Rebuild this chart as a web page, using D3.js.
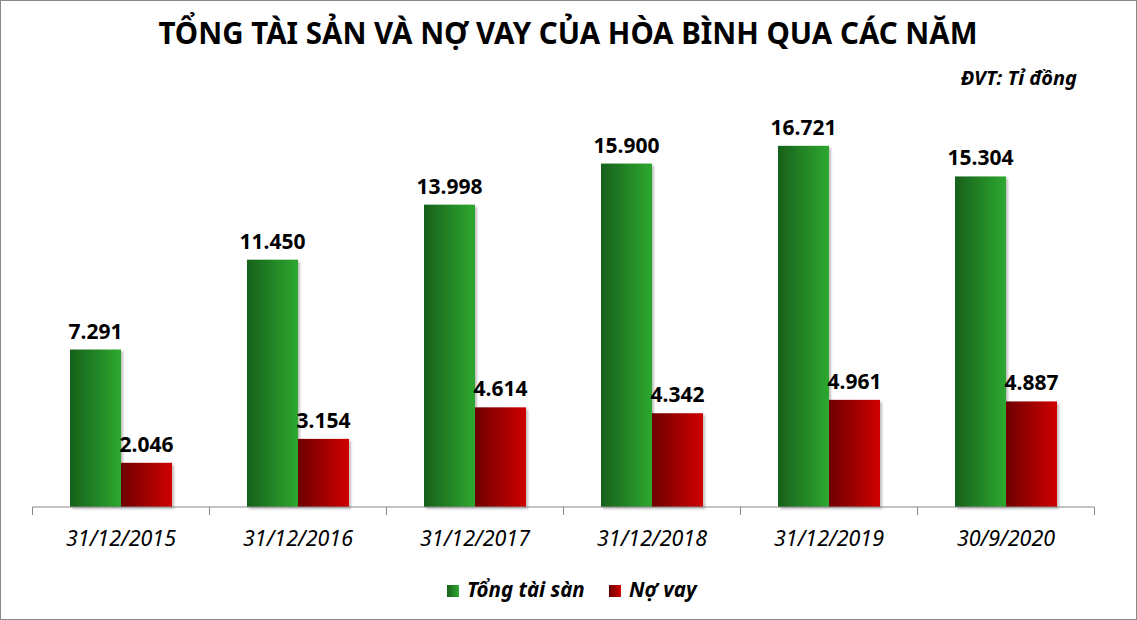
<!DOCTYPE html>
<html>
<head>
<meta charset="utf-8">
<script src="https://cdn.jsdelivr.net/npm/d3@7"></script>
<style>
  html, body { margin: 0; padding: 0; background: #fff; }
  svg { display: block; font-family: "Noto Sans", "Open Sans", sans-serif; }
</style>
</head>
<body>
<svg></svg>
<script>
var categories = ['31/12/2015', '31/12/2016', '31/12/2017', '31/12/2018', '31/12/2019', '30/9/2020'];
var seriesNames = ['Tổng tài sàn', 'Nợ vay'];
var totalAssets = [7291, 11450, 13998, 15900, 16721, 15304];
var loans = [2046, 3154, 4614, 4342, 4961, 4887];
var valueLabels = [
  ['7.291', '11.450', '13.998', '15.900', '16.721', '15.304'],
  ['2.046', '3.154', '4.614', '4.342', '4.961', '4.887']
];

var width = 1137, height = 620;
var svg = d3.select('svg').attr('width', width).attr('height', height);

// gradients for the bars
var defs = svg.append('defs');
var grads = [['gGreen', '#17601b', '#2ea82f'], ['gRed', '#6e0000', '#d00000']];
grads.forEach(function(g) {
  var lg = defs.append('linearGradient').attr('id', g[0])
    .attr('x1', '0%').attr('x2', '100%').attr('y1', '0%').attr('y2', '0%');
  lg.append('stop').attr('offset', '0%').attr('stop-color', g[1]);
  lg.append('stop').attr('offset', '100%').attr('stop-color', g[2]);
});
var sh = defs.append('filter').attr('id', 'shadow')
  .attr('x', '-10%').attr('y', '-10%').attr('width', '130%').attr('height', '130%');
sh.append('feDropShadow').attr('dx', 2).attr('dy', 2).attr('stdDeviation', 1.2)
  .attr('flood-color', '#000').attr('flood-opacity', 0.25);

// border
svg.append('rect').attr('x', 0.5).attr('y', 0.5)
  .attr('width', width - 1).attr('height', height - 1)
  .attr('fill', 'none').attr('stroke', '#888');

// title
svg.append('text')
  .attr('x', 568).attr('y', 44)
  .attr('text-anchor', 'middle')
  .attr('font-size', 29.5).attr('font-weight', 'bold')
  .text('TỔNG TÀI SẢN VÀ NỢ VAY CỦA HÒA BÌNH QUA CÁC NĂM');

svg.append('text')
  .attr('x', 1077).attr('y', 85)
  .attr('text-anchor', 'end')
  .attr('font-size', 20).attr('font-weight', 'bold').attr('font-style', 'italic')
  .text('ĐVT:  Tỉ đồng');

var x0 = d3.scaleBand().domain(categories).range([32.5, 1094.5]);
var x1 = d3.scaleBand().domain(seriesNames).range([0, x0.bandwidth()]).paddingOuter(0.735);
var y = d3.scaleLinear().domain([0, 20000]).range([507, 75]);

var rows = categories.map(function(c, i) {
  return { cat: c, vals: [totalAssets[i], loans[i]], labels: [valueLabels[0][i], valueLabels[1][i]] };
});
var fills = ['url(#gGreen)', 'url(#gRed)'];

var groups = svg.selectAll('g.cat').data(rows).enter()
  .append('g').attr('class', 'cat')
  .attr('transform', function(d) { return 'translate(' + x0(d.cat) + ',0)'; });

groups.selectAll('rect').data(function(d) {
    return seriesNames.map(function(s, k) { return { s: s, k: k, v: d.vals[k] }; });
  }).enter()
  .append('rect')
  .attr('x', function(d) { return x1(d.s); })
  .attr('y', function(d) { return y(d.v); })
  .attr('width', x1.bandwidth())
  .attr('height', function(d) { return y(0) - y(d.v); })
  .attr('fill', function(d) { return fills[d.k]; })
  .attr('filter', 'url(#shadow)');

groups.selectAll('text.val').data(function(d) {
    return seriesNames.map(function(s, k) { return { s: s, v: d.vals[k], l: d.labels[k] }; });
  }).enter()
  .append('text').attr('class', 'val')
  .attr('x', function(d) { return x1(d.s) + x1.bandwidth() / 2; })
  .attr('y', function(d) { return y(d.v) - 11; })
  .attr('text-anchor', 'middle')
  .attr('font-size', 21).attr('font-weight', 'bold')
  .text(function(d) { return d.l; });

// x axis
var xAxis = svg.append('g')
  .attr('transform', 'translate(0,507)')
  .call(d3.axisBottom(x0).tickSize(0).tickPadding(24));
xAxis.select('.domain').attr('stroke', '#888').attr('d', 'M32.5,0H1094.5');
xAxis.selectAll('text')
  .attr('font-size', 21.5).attr('font-style', 'italic')
  .attr('font-family', '"Noto Sans", sans-serif').attr('fill', '#000');
var bounds = categories.map(function(c) { return x0(c); }).concat([x0.range()[1]]);
xAxis.selectAll('line.sep').data(bounds).enter()
  .append('line').attr('class', 'sep')
  .attr('x1', function(d) { return d; }).attr('x2', function(d) { return d; })
  .attr('y1', 0).attr('y2', 8).attr('stroke', '#888');

// legend
var legendX = [447, 609];
var legend = svg.selectAll('g.leg').data(seriesNames).enter()
  .append('g').attr('class', 'leg')
  .attr('transform', function(d, i) { return 'translate(' + legendX[i] + ',585)'; });
legend.append('rect').attr('width', 12).attr('height', 12)
  .attr('fill', function(d, i) { return fills[i]; });
legend.append('text').attr('x', 20).attr('y', 12)
  .attr('font-size', 20.5).attr('font-weight', 'bold').attr('font-style', 'italic')
  .text(function(d) { return d; });
</script>
</body>
</html>
